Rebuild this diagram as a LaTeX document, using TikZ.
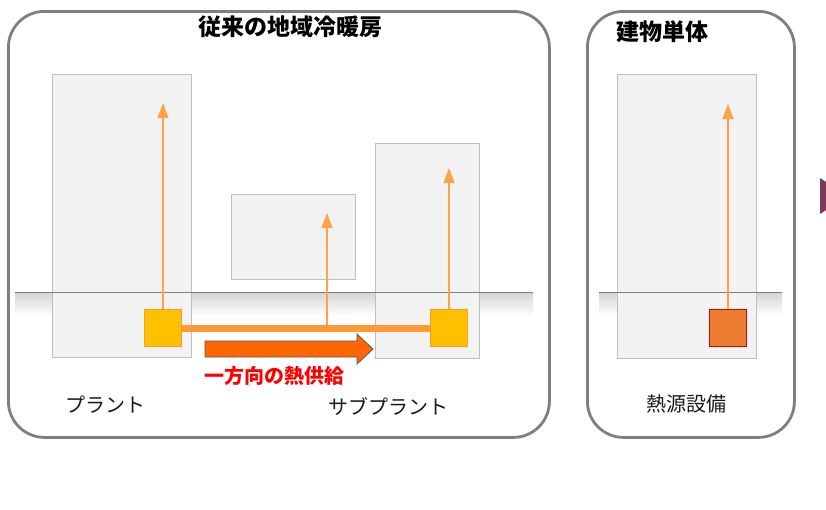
\documentclass[tikz,border=0pt]{standalone}
\usepackage{fontspec}
\newfontfamily\jp{Noto Sans CJK JP}
\usetikzlibrary{arrows.meta}
\definecolor{framegray}{HTML}{7F7F7F}
\definecolor{bldfill}{HTML}{F2F2F2}
\definecolor{bldline}{HTML}{BFBFBF}
\definecolor{pipeor}{HTML}{FF9933}
\definecolor{sqyellow}{HTML}{FFC000}
\definecolor{sqorange}{HTML}{ED7D31}
\definecolor{bigarrow}{HTML}{FF6600}
\definecolor{maroon}{HTML}{7B3B57}
\definecolor{txt}{HTML}{1A1A1A}
\tikzset{
  framebox/.style={draw=framegray, line width=2.8pt, rounded corners=36pt, fill=white, inner sep=0pt, anchor=north west},
  bld/.style={draw=bldline, line width=1.3pt, fill=bldfill, inner sep=0pt, anchor=north west},
  sq/.style={draw=pipeor, line width=1pt, fill=sqyellow, minimum size=37pt, inner sep=0pt},
  sqh/.style={draw=red!85!black, line width=1pt, fill=sqorange, minimum size=37pt, inner sep=0pt},
  uparrow/.style={draw=pipeor!90!white, line width=1.3pt, -{Triangle[length=15pt,width=11pt]}},
  pipe/.style={draw=pipeor, line width=7pt},
  ground/.style={draw=framegray, line width=0.9pt},
  lbl/.style={font=\jp\fontsize{20}{23}\selectfont, text=txt, inner sep=0pt},
  ttl/.style={font=\jp\bfseries\fontsize{23}{27}\selectfont, text=black, inner sep=0pt}
}
\begin{document}
\begin{tikzpicture}[x=1pt,y=-1pt]
\useasboundingbox (0,0) rectangle (826,509);
% frames
\node[framebox, minimum width=541pt, minimum height=426pt] (leftframe) at (7,10) {};
\node[framebox, minimum width=207pt, minimum height=426pt] (rightframe) at (586,10) {};
% ground shadows
\shade[top color=black!17, bottom color=white] (15,292) rectangle (533,316);
\shade[top color=black!17, bottom color=white] (599,292) rectangle (782,316);
% buildings
\node[bld, minimum width=139pt, minimum height=283pt] (plantbld) at (52,74) {};
\node[bld, minimum width=124pt, minimum height=85pt] (midbld) at (231,194) {};
\node[bld, minimum width=104pt, minimum height=215pt] (subbld) at (375,143) {};
\node[bld, minimum width=139pt, minimum height=284pt] (singlebld) at (617,74) {};
% ground lines
\draw[ground] (15,292) -- (533,292);
\draw[ground] (599,292) -- (782,292);
% squares
\node[sq] (ps) at (163,328) {};
\node[sq] (ss) at (449,328) {};
\node[sqh] (hs) at (728,328) {};
% pipe
\draw[pipe] (ps.east) -- (ss.west);
% arrows
\coordinate (ptop) at (163,103);
\coordinate (mbot) at (327,325);
\coordinate (mtop) at (327,213);
\coordinate (stop) at (449,168);
\coordinate (htop) at (728,104);
\draw[uparrow] (ps.north) -- (ptop);
\draw[uparrow] (mbot) -- (mtop);
\draw[uparrow] (ss.north) -- (stop);
\draw[uparrow] (hs.north) -- (htop);
% big arrow
\draw[fill=bigarrow, draw=black!65, line width=0.8pt] (205,341) -- (357,341) -- (357,334) -- (373,349) -- (357,364) -- (357,357) -- (205,357) -- cycle;
% texts
\node[ttl] (title1) at (290,27) {従来の地域冷暖房};
\node[ttl, anchor=west] (title2) at (616,32) {建物単体};
\node[font=\jp\bfseries\fontsize{20}{23}\selectfont, text=red, inner sep=0pt] (flow) at (274,376) {一方向の熱供給};
\node[lbl] (plantlbl) at (105,405) {プラント};
\node[lbl] (sublbl) at (388,406) {サブプラント};
\node[lbl] (heatlbl) at (686,404) {熱源設備};
% partial shape at edge
\fill[maroon] (820,178) -- (847,196) -- (820,214) -- cycle;
\end{tikzpicture}
\end{document}
